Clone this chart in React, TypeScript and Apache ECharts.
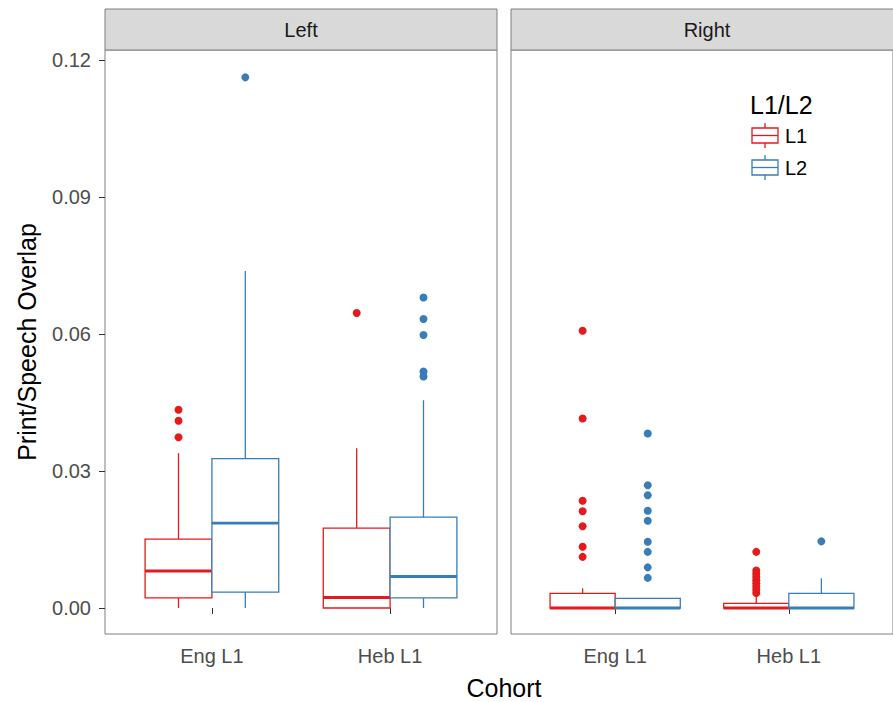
import React, { useEffect, useRef } from "react";
import * as echarts from "echarts";

const panels = ["Left", "Right"];
const categories = ["Eng L1", "Heb L1"];
const groups = ["L1", "L2"];
const yTicks = [0, 0.03, 0.06, 0.09, 0.12];

// [lowerWhisker, q1, median, q3, upperWhisker] per cohort
const leftL1Box = [
  [0, 0.0022, 0.0081, 0.0151, 0.0339],
  [0, 0, 0.0023, 0.0175, 0.035],
];
const leftL2Box = [
  [0, 0.0035, 0.0186, 0.0327, 0.0738],
  [0, 0.0022, 0.0069, 0.0199, 0.0455],
];
const rightL1Box = [
  [0, 0, 0, 0.0032, 0.0043],
  [0, 0, 0, 0.001, 0.0027],
];
const rightL2Box = [
  [0, 0, 0, 0.0021, 0.0021],
  [0, 0, 0, 0.0032, 0.0065],
];

// outliers per cohort
const leftL1Out = [[0.0434, 0.041, 0.0374], [0.0646]];
const leftL2Out = [[0.1162], [0.068, 0.0633, 0.0598, 0.0518, 0.0507]];
const rightL1Out = [
  [0.0607, 0.0415, 0.0235, 0.0212, 0.0179, 0.0134, 0.0112],
  [0.0123, 0.0082, 0.0075, 0.0068, 0.0061, 0.0054, 0.0047, 0.004, 0.0033],
];
const rightL2Out = [
  [0.0382, 0.0269, 0.0247, 0.0213, 0.0191, 0.0145, 0.0123, 0.0089, 0.0066],
  [0.0146],
];

const RED = "#e41a1c";
const BLUE = "#377eb8";
const BOX_W = 0.375;
const FONT = "'Liberation Sans', Arial, Helvetica, sans-serif";

function boxData(boxes: number[][], offset: number) {
  return boxes.map((b, i) => [i + 1 + offset, ...b]);
}
function outData(outs: number[][], offset: number) {
  const res: number[][] = [];
  outs.forEach((arr, i) => arr.forEach((v) => res.push([i + 1 + offset, v])));
  return res;
}

function makeBoxSeries(data: number[][], color: string, idx: number) {
  return {
    type: "custom",
    xAxisIndex: idx,
    yAxisIndex: idx,
    data,
    encode: { x: 0, y: [1, 2, 3, 4, 5] },
    renderItem: (params: any, api: any) => {
      const x = api.value(0);
      const lo = api.coord([x, api.value(1)]);
      const q1 = api.coord([x, api.value(2)]);
      const md = api.coord([x, api.value(3)]);
      const q3 = api.coord([x, api.value(4)]);
      const hi = api.coord([x, api.value(5)]);
      const w = api.size([BOX_W, 0])[0];
      const cx = q1[0];
      return {
        type: "group",
        children: [
          {
            type: "line",
            shape: { x1: cx, y1: q3[1], x2: cx, y2: hi[1] },
            style: { stroke: color, lineWidth: 1.3 },
          },
          {
            type: "line",
            shape: { x1: cx, y1: q1[1], x2: cx, y2: lo[1] },
            style: { stroke: color, lineWidth: 1.3 },
          },
          {
            type: "rect",
            shape: { x: cx - w / 2, y: q3[1], width: w, height: q1[1] - q3[1] },
            style: { fill: "#fff", stroke: color, lineWidth: 1.3 },
          },
          {
            type: "line",
            shape: { x1: cx - w / 2, y1: md[1], x2: cx + w / 2, y2: md[1] },
            style: { stroke: color, lineWidth: 2.8 },
          },
        ],
      };
    },
    z: color === BLUE ? 3 : 2,
  };
}

function makeOutSeries(data: number[][], color: string, idx: number) {
  return {
    type: "scatter",
    xAxisIndex: idx,
    yAxisIndex: idx,
    data,
    symbolSize: 8,
    itemStyle: { color, opacity: 1 },
    z: 4,
  };
}

const GRID_TOP = 50;
const GRID_H = 584;
const GRID_W = 392;
const gridLefts = [105, 511];

export default function App() {
  const ref = useRef<HTMLDivElement>(null);
  useEffect(() => {
    if (!ref.current) return;
    const chart = echarts.init(ref.current, null, { renderer: "svg" });
    const yMin = -0.00569;
    const yMax = 0.12219;
    const option: any = {
      animation: false,
      backgroundColor: "#fff",
      textStyle: { fontFamily: FONT },
      grid: gridLefts.map((l) => ({
        left: l,
        top: GRID_TOP,
        width: GRID_W,
        height: GRID_H,
        show: true,
        borderColor: "#7f7f7f",
        borderWidth: 1,
        backgroundColor: "#fff",
        containLabel: false,
      })),
      xAxis: gridLefts.map((_, i) => ({
        type: "value",
        gridIndex: i,
        min: 0.4,
        max: 2.6,
        axisLine: { show: false },
        splitLine: { show: false },
        axisTick: {
          show: true,
          customValues: [1, 2],
          length: 6,
          lineStyle: { color: "#333", width: 1 },
        },
        axisLabel: {
          show: true,
          customValues: [1, 2],
          formatter: (v: number) => categories[Math.round(v) - 1],
          color: "#4d4d4d",
          fontSize: 20,
          fontFamily: FONT,
          margin: 12,
        },
      })),
      yAxis: gridLefts.map((_, i) => ({
        type: "value",
        gridIndex: i,
        min: yMin,
        max: yMax,
        axisLine: { show: false },
        splitLine: { show: false },
        axisTick: {
          show: i === 0,
          customValues: yTicks,
          length: 6,
          lineStyle: { color: "#333", width: 1 },
        },
        axisLabel: {
          show: i === 0,
          customValues: yTicks,
          formatter: (v: number) => v.toFixed(2),
          color: "#4d4d4d",
          fontSize: 20,
          fontFamily: FONT,
          margin: 14,
        },
      })),
      series: [
        makeBoxSeries(boxData(leftL1Box, -BOX_W / 2), RED, 0),
        makeBoxSeries(boxData(leftL2Box, BOX_W / 2), BLUE, 0),
        makeOutSeries(outData(leftL1Out, -BOX_W / 2), RED, 0),
        makeOutSeries(outData(leftL2Out, BOX_W / 2), BLUE, 0),
        makeBoxSeries(boxData(rightL1Box, -BOX_W / 2), RED, 1),
        makeBoxSeries(boxData(rightL2Box, BOX_W / 2), BLUE, 1),
        makeOutSeries(outData(rightL1Out, -BOX_W / 2), RED, 1),
        makeOutSeries(outData(rightL2Out, BOX_W / 2), BLUE, 1),
      ],
      graphic: [
        ...panels.flatMap((p, i) => [
          {
            type: "rect",
            shape: { x: gridLefts[i], y: 9, width: GRID_W, height: 41 },
            style: { fill: "#d9d9d9", stroke: "#7f7f7f", lineWidth: 1 },
            z: 10,
          },
          {
            type: "text",
            x: gridLefts[i] + GRID_W / 2,
            y: 30,
            style: {
              text: p,
              fill: "#1a1a1a",
              font: `20px ${FONT}`,
              textAlign: "center",
              textVerticalAlign: "middle",
            },
            z: 11,
          },
        ]),
        {
          type: "text",
          x: 504,
          y: 688,
          style: {
            text: "Cohort",
            fill: "#000",
            font: `25px ${FONT}`,
            textAlign: "center",
            textVerticalAlign: "middle",
          },
        },
        {
          type: "text",
          x: 27,
          y: 342,
          rotation: Math.PI / 2,
          style: {
            text: "Print/Speech Overlap",
            fill: "#000",
            font: `25px ${FONT}`,
            textAlign: "center",
            textVerticalAlign: "middle",
          },
        },
        {
          type: "text",
          x: 750,
          y: 105,
          style: {
            text: "L1/L2",
            fill: "#000",
            font: `25px ${FONT}`,
            textAlign: "left",
            textVerticalAlign: "middle",
          },
        },
        ...groups.flatMap((g, i) => {
          const color = i === 0 ? RED : BLUE;
          const top = 128 + i * 32;
          return [
            {
              type: "line",
              shape: { x1: 765, y1: top - 5, x2: 765, y2: top + 20 },
              style: { stroke: color, lineWidth: 1.3 },
            },
            {
              type: "rect",
              shape: { x: 752, y: top, width: 26, height: 15 },
              style: { fill: "#fff", stroke: color, lineWidth: 1.3 },
            },
            {
              type: "line",
              shape: { x1: 752, y1: top + 7.5, x2: 778, y2: top + 7.5 },
              style: { stroke: color, lineWidth: 1.3 },
            },
            {
              type: "text",
              x: 785,
              y: top + 8,
              style: {
                text: g,
                fill: "#000",
                font: `20px ${FONT}`,
                textAlign: "left",
                textVerticalAlign: "middle",
              },
            },
          ];
        }),
      ],
    };
    chart.setOption(option);
    return () => chart.dispose();
  }, []);
  return (
    <div
      ref={ref}
      style={{ position: "absolute", left: 0, top: 0, width: 893, height: 702 }}
    />
  );
}
